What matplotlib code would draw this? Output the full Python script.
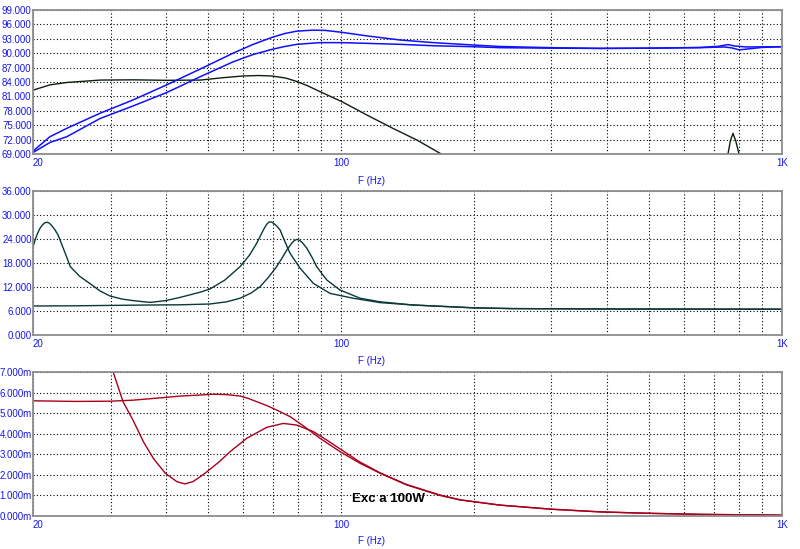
import numpy as np
import matplotlib.pyplot as plt

# --- data ---
# top panel: SPL (dB)
spl_up_f = [20, 21.85, 23.86, 28.4, 33.7, 40.2, 47.9, 56.85, 63, 69.7, 74.5, 79.4, 86.3, 92, 100.4,
            114.5, 136, 162, 200, 229, 300, 387, 500, 652, 720, 754, 780, 830, 1000]
spl_up = [69.6, 72.6, 74.35, 77.5, 80.25, 83.4, 86.7, 90.0, 91.8, 93.3, 94.1, 94.6, 94.8, 94.75,
          94.35, 93.6, 92.75, 92.2, 91.7, 91.4, 91.15, 91.0, 91.05, 91.2, 91.45, 91.8, 91.5, 91.3,
          91.35]
spl_lo_f = [20, 21.85, 23.86, 28.4, 33.7, 40.2, 47.9, 56.85, 63, 69.7, 74.5, 79.4, 89.5, 100.4,
            114.5, 136, 162, 200, 229, 300, 387, 500, 652, 740, 770, 799, 840, 900, 1000]
spl_lo = [69.3, 71.4, 72.6, 76.4, 79.0, 81.8, 85.1, 88.2, 89.7, 90.8, 91.4, 91.85, 92.2, 92.2,
          92.05, 91.85, 91.55, 91.35, 91.15, 91.05, 91.0, 91.05, 91.15, 91.3, 91.1, 90.7, 90.9,
          91.2, 91.35]
spl_k_f = [20, 21.85, 23.86, 28.4, 33.7, 40.2, 47.9, 54, 59.9, 65, 69.7, 75, 79.4, 84, 89.5, 100.4,
           114.5, 131, 148.6, 170.2, 190, np.nan, 745, 754, 764, 774, 785, 799, 808]
spl_k = [82.3, 83.4, 83.9, 84.4, 84.45, 84.35, 84.4, 84.9, 85.25, 85.35, 85.25, 84.8, 84.1, 83.2,
         82.0, 79.9, 77.1, 74.35, 71.9, 68.8, 66.5, np.nan, 66, 69.0, 71.8, 73.3, 71.8, 69.0, 66]

# middle panel: impedance (ohm)
imp_a_f = [20, 20.25, 20.5, 20.75, 21, 21.25, 21.5, 21.75, 22, 22.4, 22.8, 23.5, 24.3, 25.5, 26.9,
           28.4, 29.9, 31.8, 33.7, 36.9, 40, 43.1, 47.9, 50.4, 54.5, 59, 62, 64.3, 66.6, 67.7,
           68.7, 69.6, 70.5, 71.5, 72.7, 74.5, 76.6, 80.7, 86.5, 94.4, 106.4, 122.5, 145.5, 174,
           199, 245, 414, 1000]
imp_a = [22, 24.0, 25.5, 26.7, 27.5, 28.0, 28.2, 28.0, 27.5, 26.4, 25, 21.3, 17.1, 14.7, 12.9,
         11.0, 9.75, 9.0, 8.6, 8.15, 8.6, 9.4, 10.7, 11.5, 13.75, 17.1, 20.0, 22.9, 26.25, 27.6,
         28.3, 28.2, 27.8, 27.2, 26.25, 23.4, 20.4, 16.7, 12.9, 10.4, 9.2, 8.1, 7.5, 7.1, 6.8,
         6.6, 6.5, 6.45]
imp_b_f = [20, 25, 30, 36.9, 43.1, 50.4, 55, 59, 62.5, 65.5, 68.5, 71.4, 73.5, 75.3, 77.3, 78.3,
           79.3, 80.4, 81.5, 83.6, 86, 88, 90.5, 92.8, 99.4, 110.4, 122.5, 145.5, 174, 199, 245,
           414, 1000]
imp_b = [7.25, 7.3, 7.4, 7.5, 7.55, 7.75, 8.3, 9.2, 10.5, 12.1, 14.5, 17.1, 19.3, 21.25, 23.0, 23.6,
         23.9, 23.7, 23.2, 21.7, 19.3, 17.1, 15.3, 13.75, 11.25, 9.2, 8.3, 7.5, 7.1, 6.8, 6.6,
         6.5, 6.45]

# bottom panel: excursion (mm)
exc_c_f = [20, 25, 29.9, 33.7, 40.2, 43.1, 47.9, 51.3, 55, 59, 61.5, 64.3, 67.8, 71.4, 76.6, 82.1,
           89.5, 99.4, 110.4, 122.5, 140.8, 167.6, 186, 229, 300, 387, 500, 652, 1000]
exc_c = [5.6, 5.57, 5.58, 5.63, 5.77, 5.83, 5.88, 5.92, 5.9, 5.83, 5.72, 5.56, 5.37, 5.15, 4.83,
         4.38, 3.78, 3.13, 2.56, 2.08, 1.51, 1.0, 0.78, 0.53, 0.33, 0.2, 0.13, 0.08, 0.04]
exc_d_f = [28.5, 30.4, 32.0, 33.7, 35.6, 37.5, 39.9, 42.4, 44.2, 46.1, 47.9, 49.6, 53, 56.0, 61.1,
           67.8, 73.9, 79.3, 86.5, 92.8, 102.9, 110.4, 122.5, 140.8, 167.6, 186, 229, 300, 387,
           500, 652, 1000]
exc_d = [8.7, 7.0, 5.56, 4.67, 3.61, 2.8, 2.08, 1.67, 1.56, 1.67, 1.91, 2.15, 2.65, 3.13, 3.78,
         4.31, 4.5, 4.42, 4.1, 3.69, 3.05, 2.62, 2.1, 1.53, 1.02, 0.79, 0.53, 0.33, 0.2, 0.13, 0.08,
         0.04]

spl_ticks = [69, 72, 75, 78, 81, 84, 87, 90, 93, 96, 99]
imp_ticks = [0, 6, 12, 18, 24, 30, 36]
exc_ticks = [0, 1, 2, 3, 4, 5, 6, 7]

label_blue = '#1818e8'
plt.rcParams['font.family'] = ['Liberation Sans', 'DejaVu Sans']

fig = plt.figure(figsize=(8, 5.49), dpi=100)


def setup(ax, yticks, ylabels):
    ax.set_xscale('log')
    ax.set_xlim(20, 1000)
    ax.set_ylim(yticks[0], yticks[-1])
    ax.set_xticks([20, 100, 1000])
    ax.set_xticklabels(['20', '100', '1K'])
    ax.set_xticks([30, 40, 50, 60, 70, 80, 90, 200, 300, 400, 500, 600, 700, 800, 900], minor=True)
    ax.xaxis.set_minor_formatter(plt.NullFormatter())
    ax.set_yticks(yticks)
    ax.set_yticklabels(ylabels)
    ax.tick_params(which='both', length=0, labelsize=7, labelcolor=label_blue)
    ax.tick_params(axis='x', pad=3)
    ax.tick_params(axis='y', pad=1)
    ax.get_xticklabels()[0].set_ha('left')
    ax.grid(True, which='both', color='black', ls=(0, (1, 2)), lw=0.8)
    for s in ax.spines.values():
        s.set_color('#8c8c8c')
        s.set_linewidth(1.3)


left, width, height = 33 / 800, 749 / 800, 144 / 549

ax1 = fig.add_axes([left, 1 - 154 / 549, width, height])
setup(ax1, spl_ticks, ['%.3f' % v for v in spl_ticks])
ax1.plot(spl_k_f, spl_k, color='#0c1f0c', lw=1.0)
ax1.plot(spl_lo_f, spl_lo, color='#1010ff', lw=1.1)
ax1.plot(spl_up_f, spl_up, color='#1010ff', lw=1.1)

ax2 = fig.add_axes([left, 1 - 335 / 549, width, height])
setup(ax2, imp_ticks, ['%.3f' % v for v in imp_ticks])
ax2.plot(imp_b_f, imp_b, color='#0a3838', lw=1.0)
ax2.plot(imp_a_f, imp_a, color='#0a3838', lw=1.0)

ax3 = fig.add_axes([left, 1 - 516 / 549, width, height])
setup(ax3, exc_ticks, ['%.3fm' % v for v in exc_ticks])
ax3.plot(exc_c_f, exc_c, color='#a8001e', lw=1.0)
ax3.plot(exc_d_f, exc_d, color='#a8001e', lw=1.0)
ax3.text(105.8, 0.85, 'Exc a 100W', fontsize=9.5, fontweight='bold', color='black',
         ha='left', va='center')

for ypx in [181, 361, 541]:
    fig.text(371 / 800, 1 - ypx / 549, 'F (Hz)', ha='center', va='center',
             color=label_blue, fontsize=7)

fig.savefig('out.png', dpi=100)
